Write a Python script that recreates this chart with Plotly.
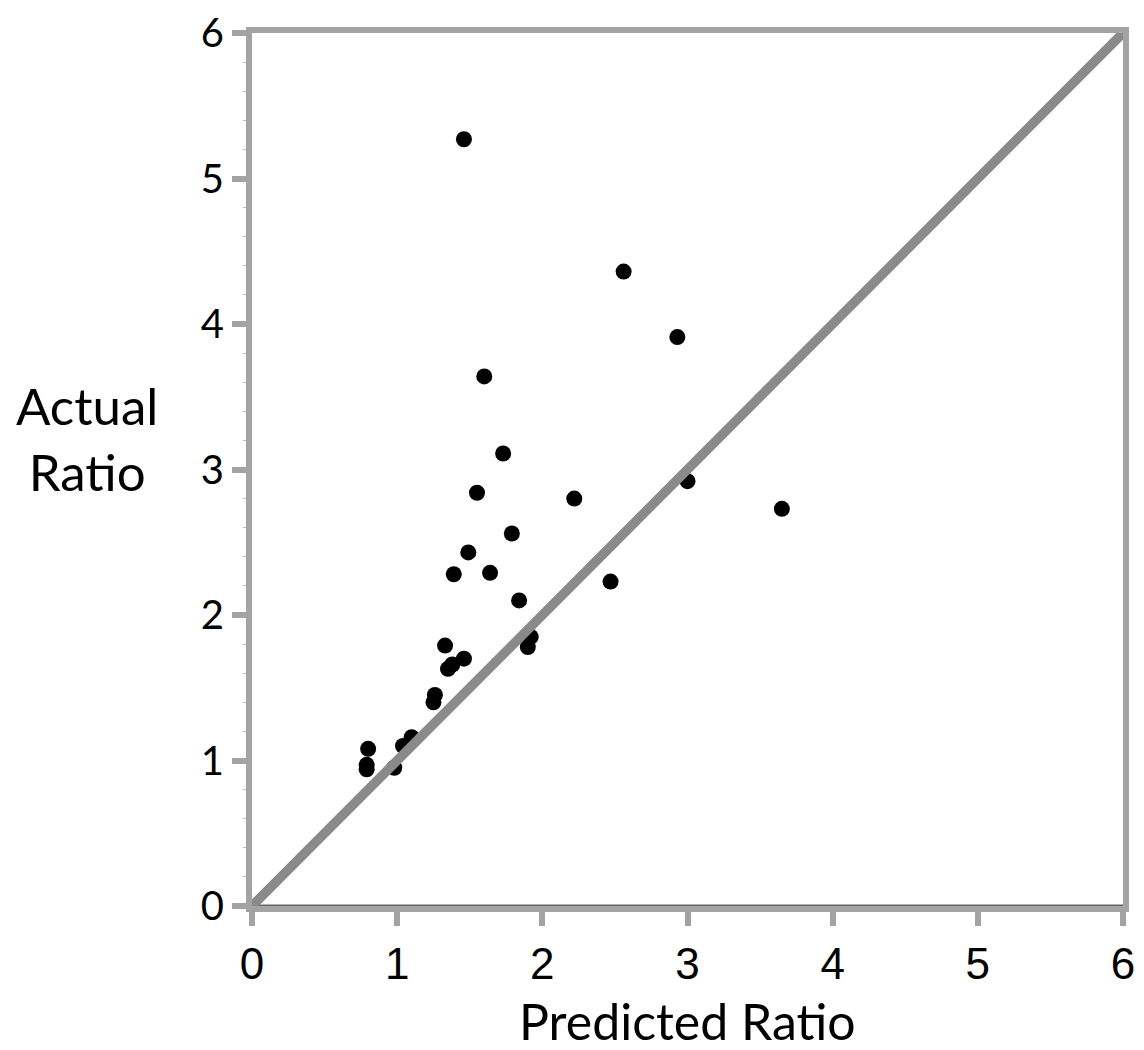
import plotly.graph_objects as go

predicted = [1.46, 2.56, 2.93, 1.60, 1.73, 1.55, 2.22, 3.00, 3.65, 1.79, 1.49, 1.39, 1.64, 2.47,
             1.84, 1.92, 1.90, 1.33, 1.46, 1.38, 1.35, 1.26, 1.25, 1.10, 1.04, 0.98, 0.80, 0.79, 0.79]
actual = [5.27, 4.36, 3.91, 3.64, 3.11, 2.84, 2.80, 2.92, 2.73, 2.56, 2.43, 2.28, 2.29, 2.23,
          2.10, 1.85, 1.78, 1.79, 1.70, 1.66, 1.63, 1.45, 1.40, 1.16, 1.10, 0.95, 1.08, 0.97, 0.94]
ticks = [0, 1, 2, 3, 4, 5, 6]
identity = [0, 6]

fig = go.Figure()
fig.add_trace(go.Scatter(x=predicted, y=actual, mode="markers",
                         marker=dict(color="black", size=16), showlegend=False))
fig.add_trace(go.Scatter(x=[0, 6], y=[0, 0], mode="lines",
                         line=dict(color="#666666", width=3), showlegend=False))
fig.add_trace(go.Scatter(x=identity, y=identity, mode="lines",
                         line=dict(color="#8a8a8a", width=9.5), showlegend=False))

axis_common = dict(range=[0, 6], showgrid=False, zeroline=False, showline=True,
                   linecolor="#a3a3a3", linewidth=6, mirror=True, automargin=False,
                   ticks="outside", ticklen=14, tickwidth=6, tickcolor="#a3a3a3",
                   tickvals=ticks, ticktext=[str(t) for t in ticks])

fig.update_xaxes(**axis_common, tickfont=dict(family="Liberation Sans", size=44, color="black"))
fig.update_yaxes(**axis_common, tickfont=dict(family="Lato", size=40, color="black"),
                 minor=dict(ticks="outside", ticklen=3, tickwidth=1, tickcolor="#bbbbbb", dtick=0.2))

fig.add_annotation(text="Predicted Ratio", x=0.5, y=-0.132, xref="paper", yref="paper",
                   showarrow=False, xanchor="center", yanchor="middle",
                   font=dict(family="Lato", size=50, color="black"))
fig.add_annotation(text="Actual<br>Ratio", x=-0.19, y=0.535, xref="paper", yref="paper",
                   showarrow=False, xanchor="center", yanchor="middle", align="center",
                   font=dict(family="Lato", size=51, color="black"))

fig.update_layout(width=1144, height=1050, plot_bgcolor="white", paper_bgcolor="white",
                  margin=dict(l=252, r=21, t=33, b=144))

fig.write_html("out.html")
